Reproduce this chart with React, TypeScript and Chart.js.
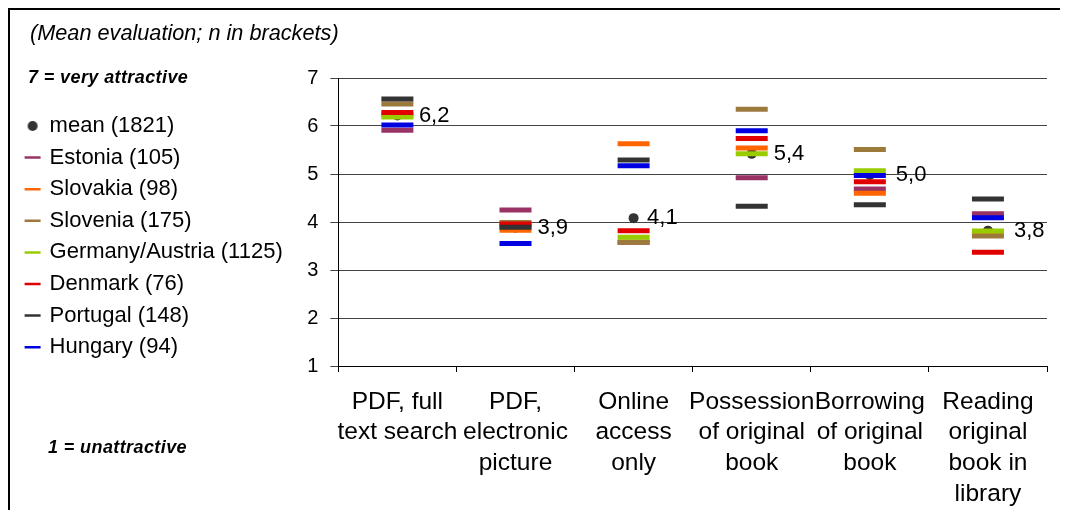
import React, { useEffect, useRef } from 'react';
import { Chart, registerables } from 'chart.js';

Chart.register(...registerables);

const categories: string[][] = [
  ['PDF, full', 'text search'],
  ['PDF,', 'electronic', 'picture'],
  ['Online', 'access', 'only'],
  ['Possession', 'of original', 'book'],
  ['Borrowing', 'of original', 'book'],
  ['Reading', 'original', 'book in', 'library'],
];

const meanValues = [6.22, 3.88, 4.08, 5.42, 4.98, 3.82];
const estonia = [5.91, 4.25, 3.58, 4.92, 4.69, 4.17];
const slovakia = [6.23, 3.83, 5.63, 5.54, 4.6, 3.76];
const slovenia = [6.46, 3.99, 3.58, 6.35, 5.51, 3.71];
const germanyAustria = [6.19, 3.92, 3.68, 5.42, 5.07, 3.81];
const denmark = [6.28, 3.96, 3.82, 5.74, 4.84, 3.37];
const portugal = [6.56, 3.89, 5.29, 4.33, 4.36, 4.48];
const hungary = [6.02, 3.55, 5.17, 5.9, 4.97, 4.09];

const seriesLabels = [
  'mean (1821)',
  'Estonia (105)',
  'Slovakia (98)',
  'Slovenia (175)',
  'Germany/Austria (1125)',
  'Denmark (76)',
  'Portugal (148)',
  'Hungary (94)',
];

const yTicks = [1, 2, 3, 4, 5, 6, 7];

const MEAN_COLOR = '#333333';
const countryColors = ['#993366', '#FF6600', '#9C7A3C', '#99CC00', '#E00000', '#333333', '#0000E0'];
const labelOffsets = [21.5, 22, 13.5, 22, 26, 26];
const FONT = '"Liberation Sans", Arial, sans-serif';

export default function App() {
  const ref = useRef<HTMLCanvasElement>(null);

  useEffect(() => {
    document.documentElement.style.overflow = 'hidden';
    document.body.style.overflow = 'hidden';
    if (!ref.current) return;
    const dot = document.createElement('canvas');
    dot.width = 12;
    dot.height = 12;
    const dctx = dot.getContext('2d')!;
    dctx.fillStyle = MEAN_COLOR;
    dctx.beginPath();
    dctx.arc(6, 6, 5, 0, Math.PI * 2);
    dctx.fill();

    const countrySeries = [estonia, slovakia, slovenia, germanyAustria, denmark, portugal, hungary];

    const datasets: any[] = [
      {
        label: seriesLabels[0],
        data: meanValues,
        showLine: false,
        pointStyle: 'circle',
        pointRadius: 5,
        pointHoverRadius: 5,
        backgroundColor: MEAN_COLOR,
        borderColor: MEAN_COLOR,
        pointBorderWidth: 0,
        order: 100,
      },
      ...countrySeries.map((vals, i) => ({
        label: seriesLabels[i + 1],
        data: vals,
        showLine: false,
        pointStyle: 'line',
        pointRadius: 16,
        pointHoverRadius: 16,
        pointBorderWidth: 5,
        pointHoverBorderWidth: 5,
        backgroundColor: countryColors[i],
        borderColor: countryColors[i],
        order: 50 - i,
      })),
    ];

    const meanLabelPlugin = {
      id: 'meanLabels',
      afterDatasetsDraw(chart: any) {
        const meta = chart.getDatasetMeta(0);
        const ctx = chart.ctx;
        ctx.save();
        ctx.font = `22px ${FONT}`;
        ctx.fillStyle = '#000';
        ctx.textAlign = 'left';
        ctx.textBaseline = 'middle';
        meta.data.forEach((pt: any, i: number) => {
          const txt = meanValues[i].toFixed(1).replace('.', ',');
          ctx.fillText(txt, pt.x + labelOffsets[i], pt.y);
        });
        ctx.restore();
      },
    };

    const chart = new Chart(ref.current, {
      type: 'line',
      data: { labels: categories as any, datasets },
      options: {
        animation: false,
        responsive: false,
        events: [],
        layout: { padding: { left: 7, top: 68, right: 11, bottom: 2.5 } },
        plugins: {
          tooltip: { enabled: false },
          title: { display: false },
          legend: {
            position: 'left',
            align: 'start',
            maxWidth: 400,
            title: { display: true, text: '', font: { size: 16 }, padding: { top: 8.2, bottom: 0 } },
            labels: {
              usePointStyle: true,
              boxWidth: 12,
              boxHeight: 11.3,
              padding: 9.6,
              color: '#000',
              font: { family: FONT, size: 22 },
              sort: (a: any, b: any) => a.datasetIndex - b.datasetIndex,
              generateLabels: (c: any) => {
                const items = (Chart.defaults.plugins.legend.labels as any).generateLabels(c);
                return items.map((it: any) =>
                  it.datasetIndex === 0
                    ? { ...it, pointStyle: dot }
                    : { ...it, lineWidth: 2.5 }
                );
              },
            },
          },
        },
        scales: {
          x: {
            type: 'category',
            offset: true,
            afterFit: (scale: any) => {
              scale.height = 141.5;
              scale.paddingLeft = 0;
              scale.paddingRight = 0;
            },
            grid: {
              offset: true,
              drawOnChartArea: false,
              drawTicks: true,
              tickLength: 6,
              color: '#000',
            },
            border: { display: true, color: '#000', width: 1 },
            ticks: {
              color: '#000',
              maxRotation: 0,
              minRotation: 0,
              autoSkip: false,
              padding: 14.5,
              font: { family: FONT, size: 24.5, lineHeight: 1.253 },
            },
          },
          y: {
            min: 1,
            max: 7,
            afterBuildTicks: (scale: any) => {
              scale.ticks = yTicks.map((v) => ({ value: v }));
            },
            afterFit: (scale: any) => {
              scale.width = 45.6;
            },
            grid: { color: '#444', tickLength: 8, drawTicks: true },
            border: { display: true, color: '#000', width: 1 },
            ticks: {
              color: '#000',
              padding: 12,
              font: { family: FONT, size: 20 },
            },
          },
        },
      },
      plugins: [meanLabelPlugin],
    } as any);

    return () => chart.destroy();
  }, []);

  return (
    <div
      style={{
        position: 'relative',
        width: 1058,
        height: 500,
        borderTop: '2px solid #000',
        borderLeft: '2px solid #000',
        fontFamily: FONT,
        color: '#000',
        overflow: 'hidden',
      }}
    >
      <canvas ref={ref} width={1058} height={500} style={{ position: 'absolute', left: 0, top: 0, display: 'block' }} />
      <div style={{ position: 'absolute', left: 20, top: 11, fontSize: 21.7, lineHeight: '24px', fontStyle: 'italic', whiteSpace: 'nowrap' }}>
        (Mean evaluation; n in brackets)
      </div>
      <div style={{ position: 'absolute', left: 18, top: 57, fontSize: 18, lineHeight: '20px', fontStyle: 'italic', fontWeight: 'bold', letterSpacing: '0.4px', whiteSpace: 'nowrap' }}>
        7 = very attractive
      </div>
      <div style={{ position: 'absolute', left: 38, top: 427, fontSize: 18, lineHeight: '20px', fontStyle: 'italic', fontWeight: 'bold', letterSpacing: '0.4px', whiteSpace: 'nowrap' }}>
        1 = unattractive
      </div>
    </div>
  );
}
